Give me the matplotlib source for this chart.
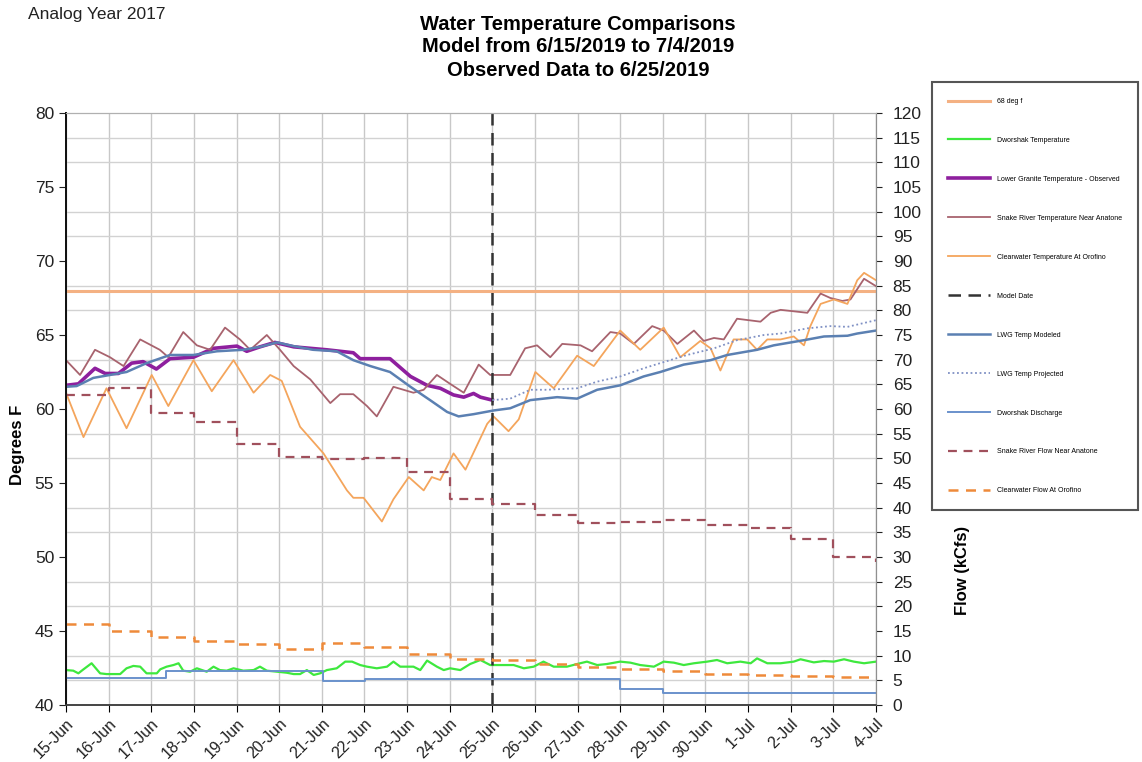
import matplotlib
matplotlib.use("Agg")
import matplotlib.pyplot as plt

plt.rcParams["font.family"] = ["Liberation Sans", "DejaVu Sans"]

# Dates (day 0 = 15-Jun, day 19 = 4-Jul)
date_labels = ["15-Jun", "16-Jun", "17-Jun", "18-Jun", "19-Jun", "20-Jun", "21-Jun",
               "22-Jun", "23-Jun", "24-Jun", "25-Jun", "26-Jun", "27-Jun", "28-Jun",
               "29-Jun", "30-Jun", "1-Jul", "2-Jul", "3-Jul", "4-Jul"]
model_date = 10.0
threshold_temp = 68.0

# Clearwater temperature at Orofino (deg F)
cw_day = [0, 0.41, 0.95, 1.42, 2.01, 2.4, 2.99, 3.42, 3.93, 4.4, 4.79, 5.06, 5.49, 6.04,
          6.59, 6.74, 6.98, 7.41, 7.68, 8.04, 8.39, 8.58, 8.78, 9.09, 9.37, 9.88, 10.03,
          10.38, 10.62, 11.01, 11.44, 11.99, 12.38, 13.0, 13.47, 14.02, 14.41, 14.88,
          15.12, 15.35, 15.66, 15.98, 16.21, 16.45, 16.76, 17.07, 17.31, 17.46, 17.7,
          18.01, 18.33, 18.56, 18.72, 19.0]
cw_temp = [61.1, 58.1, 61.4, 58.7, 62.3, 60.2, 63.3, 61.2, 63.3, 61.1, 62.3, 61.9, 58.8,
           57.0, 54.5, 54.0, 54.0, 52.4, 53.9, 55.4, 54.5, 55.4, 55.2, 57.0, 55.9, 59.0,
           59.5, 58.5, 59.3, 62.5, 61.4, 63.6, 62.9, 65.3, 64.0, 65.5, 63.5, 64.6, 64.1,
           62.6, 64.7, 64.7, 64.0, 64.7, 64.7, 64.9, 64.3, 65.6, 67.1, 67.4, 67.1, 68.7,
           69.2, 68.7]

# Snake River temperature near Anatone (deg F)
sr_day = [0, 0.33, 0.68, 1.03, 1.35, 1.74, 2.2, 2.4, 2.75, 3.07, 3.38, 3.73, 4.08, 4.32,
          4.71, 5.02, 5.34, 5.73, 6.2, 6.43, 6.74, 7.06, 7.29, 7.68, 8.15, 8.39, 8.7,
          9.01, 9.33, 9.68, 9.95, 10.42, 10.77, 11.05, 11.36, 11.64, 12.07, 12.34, 12.77,
          13.0, 13.32, 13.75, 14.02, 14.34, 14.73, 14.96, 15.2, 15.43, 15.74, 16.29,
          16.53, 16.76, 17.39, 17.7, 17.93, 18.21, 18.4, 18.72, 19.0]
sr_temp = [63.3, 62.3, 64.0, 63.5, 62.9, 64.7, 64.0, 63.5, 65.2, 64.3, 64.0, 65.5, 64.7,
           64.0, 65.0, 64.0, 62.9, 62.0, 60.4, 61.0, 61.0, 60.2, 59.5, 61.5, 61.1, 61.3,
           62.3, 61.7, 61.1, 63.0, 62.3, 62.3, 64.1, 64.3, 63.5, 64.4, 64.3, 63.9, 65.2,
           65.1, 64.4, 65.6, 65.3, 64.4, 65.3, 64.6, 64.8, 64.7, 66.1, 65.9, 66.5, 66.7,
           66.5, 67.8, 67.5, 67.3, 67.4, 68.8, 68.3]

# Lower Granite temperature - observed (deg F)
lgr_day = [0, 0.29, 0.68, 0.92, 1.23, 1.54, 1.81, 2.12, 2.44, 2.99, 3.46, 4.01, 4.24,
           4.55, 4.9, 5.34, 6.12, 6.74, 6.9, 7.6, 8.08, 8.47, 8.78, 9.09, 9.33, 9.56,
           9.72, 10.0]
lgr_temp = [61.6, 61.7, 62.75, 62.4, 62.4, 63.1, 63.2, 62.7, 63.4, 63.5, 64.1, 64.25,
            63.9, 64.2, 64.5, 64.2, 64.0, 63.8, 63.4, 63.4, 62.2, 61.6, 61.4, 60.95,
            60.8, 61.05, 60.8, 60.6]

# LWG temp modeled (deg F)
mod_day = [0, 0.25, 0.64, 1.03, 1.42, 1.89, 2.44, 2.99, 3.54, 4.16, 4.55, 4.95, 5.34,
           5.8, 6.35, 6.74, 7.14, 7.6, 8.08, 8.54, 8.94, 9.21, 9.56, 10.03, 10.42, 10.89,
           11.52, 11.99, 12.46, 13.0, 13.55, 13.94, 14.49, 15.12, 15.51, 16.21, 16.6,
           17.31, 17.78, 18.33, 18.56, 19.0]
mod_temp = [61.5, 61.55, 62.1, 62.3, 62.5, 63.1, 63.65, 63.65, 63.9, 64.0, 64.2, 64.5,
            64.25, 64.0, 63.9, 63.3, 62.9, 62.5, 61.5, 60.6, 59.8, 59.5, 59.65, 59.9,
            60.05, 60.6, 60.8, 60.7, 61.3, 61.6, 62.2, 62.5, 63.0, 63.3, 63.65, 64.0,
            64.3, 64.65, 64.9, 64.95, 65.1, 65.3]

# LWG temp projected (deg F)
proj_day = [10.0, 10.42, 10.89, 11.28, 11.99, 12.46, 13.0, 13.55, 13.94, 14.57, 15.2,
            15.74, 16.37, 16.76, 17.39, 17.93, 18.33, 19.0]
proj_temp = [60.6, 60.7, 61.3, 61.3, 61.4, 61.85, 62.2, 62.75, 63.1, 63.65, 64.1, 64.65,
             65.0, 65.1, 65.45, 65.6, 65.55, 66.0]

# Dworshak temperature (deg F)
dt_day = [0, 0.17, 0.29, 0.41, 0.60, 0.80, 0.95, 1.27, 1.42, 1.58, 1.74, 1.89, 2.13,
          2.21, 2.36, 2.52, 2.64, 2.75, 2.91, 3.07, 3.30, 3.46, 3.61, 3.77, 3.93, 4.16,
          4.40, 4.55, 4.71, 4.95, 5.18, 5.34, 5.49, 5.65, 5.81, 5.96, 6.12, 6.35, 6.55,
          6.71, 6.90, 7.06, 7.29, 7.53, 7.68, 7.84, 8.15, 8.31, 8.47, 8.70, 8.86, 9.01,
          9.25, 9.48, 9.72, 9.95, 10.19, 10.50, 10.74, 10.97, 11.20, 11.44, 11.75, 11.99,
          12.22, 12.46, 12.69, 13.0, 13.24, 13.47, 13.79, 14.02, 14.26, 14.49, 14.73,
          15.04, 15.27, 15.51, 15.82, 16.06, 16.21, 16.45, 16.76, 17.07, 17.23, 17.54,
          17.78, 18.01, 18.25, 18.48, 18.72, 19.0]
dt_temp = [42.36, 42.32, 42.14, 42.41, 42.82, 42.14, 42.09, 42.09, 42.48, 42.64, 42.59,
           42.14, 42.14, 42.41, 42.59, 42.70, 42.82, 42.32, 42.25, 42.48, 42.25, 42.59,
           42.36, 42.32, 42.48, 42.32, 42.36, 42.59, 42.32, 42.25, 42.18, 42.09, 42.09,
           42.36, 42.03, 42.14, 42.36, 42.48, 42.93, 42.93, 42.70, 42.59, 42.48, 42.59,
           42.93, 42.59, 42.59, 42.36, 43.0, 42.59, 42.36, 42.48, 42.36, 42.77, 43.04,
           42.70, 42.70, 42.70, 42.48, 42.59, 42.93, 42.59, 42.59, 42.77, 42.93, 42.70,
           42.77, 42.93, 42.86, 42.70, 42.59, 42.93, 42.86, 42.70, 42.82, 42.93, 43.04,
           42.82, 42.93, 42.82, 43.15, 42.82, 42.82, 42.93, 43.09, 42.88, 42.97, 42.93,
           43.09, 42.93, 42.82, 42.93]

# Flows (kcfs), daily values starting at each day 0..18
snake_flow = [62.8, 64.3, 59.1, 57.3, 53.0, 50.2, 49.8, 50.0, 47.2, 41.7, 40.7, 38.5,
              36.9, 37.1, 37.5, 36.4, 35.9, 33.6, 30.0]
clear_flow = [16.4, 14.9, 13.85, 13.0, 12.3, 11.4, 12.5, 11.7, 10.3, 9.3, 9.1, 8.4, 7.8,
              7.2, 6.95, 6.3, 6.1, 5.9, 5.6]
# Dworshak discharge changes (day, kcfs)
dd_day = [0, 2.35, 6.04, 7.02, 13.0, 14.0, 19.0]
dd_flow = [5.4, 6.9, 4.9, 5.3, 3.2, 2.5, 2.5]

days = list(range(len(date_labels)))
flow_days = days[:-1] + [19]

fig = plt.figure(figsize=(11.42, 7.62), dpi=100)
ax = fig.add_axes([66 / 1142, 1 - 705 / 762, 810 / 1142, 592 / 762])
ax2 = ax.twinx()

ax.set_xlim(0, 19)
ax.set_ylim(40, 80)
ax2.set_ylim(0, 120)

# grid: daily verticals and 5-kcfs horizontals
ax.set_xticks(days)
ax.set_xticklabels(date_labels, rotation=45, ha="right", rotation_mode="anchor",
                   fontsize=11.5, color="#222222")
ax.set_yticks(range(40, 81, 5))
ax.set_yticks([40 + k * 5 / 3 for k in range(25)], minor=True)
ax.tick_params(axis="y", which="minor", length=0)
ax.tick_params(axis="y", which="major", labelsize=12.5, length=5, colors="#222222")
ax.tick_params(axis="x", length=5, pad=3)
ax.grid(True, which="major", axis="x", color="#c8c8c8", lw=1.0)
ax.grid(True, which="minor", axis="y", color="#d2d2d2", lw=1.0)
ax.set_axisbelow(True)

ax2.set_yticks(range(0, 121, 5))
ax2.tick_params(axis="y", labelsize=12.5, length=4, colors="#222222", pad=8)

for a in (ax, ax2):
    a.spines["top"].set_color("#b0b0b0")
    a.spines["right"].set_color("#909090")
    a.spines["left"].set_color("#111111")
    a.spines["left"].set_linewidth(1.3)
    a.spines["bottom"].set_color("#444444")
    a.spines["bottom"].set_linewidth(1.2)

h68 = ax.axhline(threshold_temp, color="#f4b183", lw=2.2, label="68 deg f")
hdt, = ax.plot(dt_day, dt_temp, color="#3ee83e", lw=1.6, label="Dworshak Temperature")
hlgr, = ax.plot(lgr_day, lgr_temp, color="#8e1f9e", lw=2.6,
                label="Lower Granite Temperature - Observed")
hsr, = ax.plot(sr_day, sr_temp, color="#a8636e", lw=1.3,
               label="Snake River Temperature Near Anatone")
hcw, = ax.plot(cw_day, cw_temp, color="#f4a55c", lw=1.3,
               label="Clearwater Temperature At Orofino")
hmd = ax.axvline(model_date, color="#333333", lw=1.8, ls=(0, (5, 3)), label="Model Date")
hmod, = ax.plot(mod_day, mod_temp, color="#5b80b2", lw=1.8, label="LWG Temp Modeled")
hproj, = ax.plot(proj_day, proj_temp, color="#7f90c4", lw=1.3, ls=(0, (1, 1.5)),
                 label="LWG Temp Projected")

hdd, = ax2.plot(dd_day, dd_flow, color="#6a92cc", lw=1.4, drawstyle="steps-post",
                label="Dworshak Discharge")
hsf, = ax2.plot(flow_days, snake_flow + [29.0], color="#a0505c", lw=1.6,
                ls=(0, (4, 3)), drawstyle="steps-post",
                label="Snake River Flow Near Anatone")
hcf, = ax2.plot(flow_days, clear_flow + [5.6], color="#ee8a3a", lw=1.8,
                ls=(0, (4, 3)), drawstyle="steps-post",
                label="Clearwater Flow At Orofino")

handles = [h68, hdt, hlgr, hsr, hcw, hmd, hmod, hproj, hdd, hsf, hcf]
leg = fig.legend(handles=handles, loc="upper left", bbox_to_anchor=(932 / 1142, 1 - 82 / 762),
                 borderaxespad=0, fontsize=5, labelspacing=4.6, handlelength=6.0,
                 handletextpad=1.0, borderpad=2.3, fancybox=False, framealpha=1,
                 edgecolor="#555555")
leg.get_frame().set_linewidth(1.5)

fig.text(0.506, 1 - 25 / 762, "Water Temperature Comparisons", ha="center", va="center",
         fontsize=14.5, fontweight="bold")
fig.text(0.506, 1 - 47 / 762, "Model from 6/15/2019 to 7/4/2019", ha="center", va="center",
         fontsize=14.5, fontweight="bold")
fig.text(0.506, 1 - 70 / 762, "Observed Data to 6/25/2019", ha="center", va="center",
         fontsize=14.5, fontweight="bold")
fig.text(28 / 1142, 1 - 15 / 762, "Analog Year 2017", ha="left", va="center", fontsize=12.5,
         color="#222222")
fig.text(18 / 1142, 1 - 445 / 762, "Degrees F", rotation=90, ha="center", va="center",
         fontsize=12, fontweight="bold")
fig.text(962 / 1142, 1 - 570 / 762, "Flow (kCfs)", rotation=90, ha="center", va="center",
         fontsize=12, fontweight="bold")

fig.savefig("out.png", dpi=100)
